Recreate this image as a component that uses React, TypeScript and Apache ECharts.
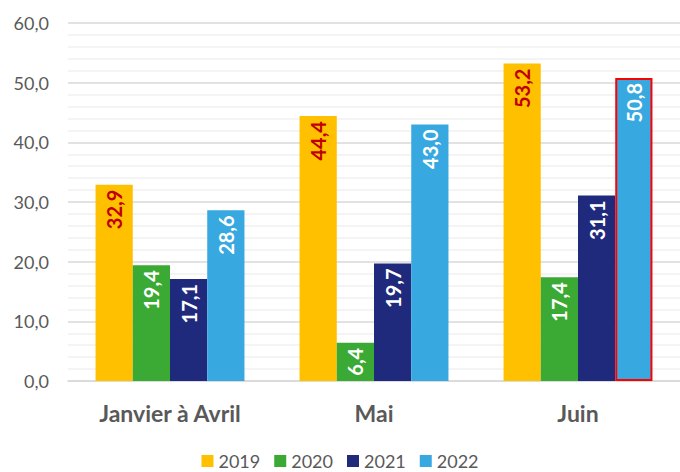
import React, { useEffect, useRef } from "react";
import * as echarts from "echarts";

const categories = ["Janvier à Avril", "Mai", "Juin"];
const years = ["2019", "2020", "2021", "2022"];
const values2019 = [32.9, 44.4, 53.2];
const values2020 = [19.4, 6.4, 17.4];
const values2021 = [17.1, 19.7, 31.1];
const values2022 = [28.6, 43.0, 50.8];
const colors = ["#FFC000", "#3AAA35", "#1F2A7C", "#38A9E0"];
const labelColors = ["#C00000", "#FFFFFF", "#FFFFFF", "#FFFFFF"];

const FONT = "Lato";
const fmt = (v: number) => v.toFixed(1).replace(".", ",");

export default function App() {
  const ref = useRef<HTMLDivElement>(null);
  useEffect(() => {
    if (!ref.current) return;
    const chart = echarts.init(ref.current, null, { renderer: "svg" });
    const allValues = [values2019, values2020, values2021, values2022];
    const series = years.map((y, i) => ({
      name: y,
      type: "bar",
      data: allValues[i].map((v, j) => {
        if (i === 3 && j === 2) {
          return { value: v, itemStyle: { borderColor: "#FF0000", borderWidth: 2 } };
        }
        return v;
      }),
      itemStyle: { color: colors[i] },
      barGap: "0%",
      barCategoryGap: "27%",
      label: {
        show: true,
        position: "insideTop",
        rotate: 90,
        align: "right",
        verticalAlign: "middle",
        distance: 5,
        color: labelColors[i],
        fontFamily: FONT,
        fontWeight: "bold",
        fontSize: 20,
        formatter: (p: any) => fmt(p.value),
      },
    }));
    chart.setOption({
      animation: false,
      grid: { left: 68, right: -3, top: 23, bottom: 91, containLabel: false },
      legend: {
        data: years,
        top: 451,
        left: "center",
        padding: 0,
        itemWidth: 12,
        itemHeight: 12,
        itemGap: 14,
        icon: "rect",
        textStyle: { fontFamily: FONT, fontSize: 18, lineHeight: 20, color: "#595959", padding: [0, 0, 0, 0] },
      },
      xAxis: {
        type: "category",
        data: categories,
        axisLine: { show: true, lineStyle: { color: "#D9D9D9", width: 1.5 } },
        axisTick: { show: false },
        axisLabel: {
          fontFamily: FONT,
          fontWeight: "bold",
          fontSize: 23,
          color: "#595959",
          margin: 20,
        },
      },
      yAxis: {
        type: "value",
        min: 0,
        max: 60,
        interval: 10,
        axisLine: { show: false },
        axisTick: { show: false },
        splitLine: { show: true, lineStyle: { color: "#D9D9D9", width: 1.5 } },
        minorTick: { show: false, splitNumber: 5 },
        minorSplitLine: { show: true, lineStyle: { color: "#F0F0F0", width: 1.5 } },
        axisLabel: {
          fontFamily: FONT,
          fontSize: 18,
          color: "#595959",
          margin: 19,
          formatter: (v: number) => fmt(v),
        },
      },
      series,
    });
    return () => chart.dispose();
  }, []);
  return (
    <div
      ref={ref}
      style={{ position: "fixed", left: 0, top: 0, width: 680, height: 472, background: "#fff" }}
    />
  );
}
